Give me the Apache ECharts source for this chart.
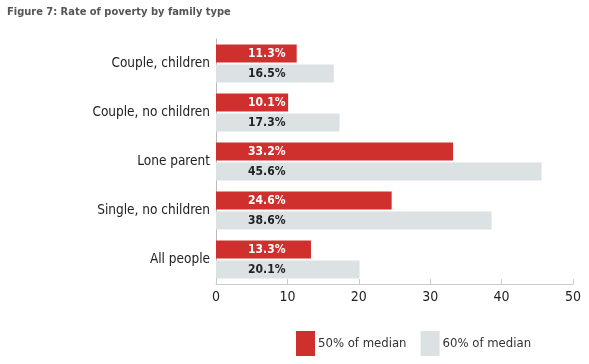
<!DOCTYPE html>
<html><head><meta charset="utf-8">
<script src="https://cdn.jsdelivr.net/npm/echarts@6/dist/echarts.min.js"></script>
<style>html,body{margin:0;padding:0;background:#fff}#c{width:589px;height:364px}</style>
</head><body><div id="c"></div>
<script>
const categories = ["Couple, children", "Couple, no children", "Lone parent", "Single, no children", "All people"];
const median50 = [11.3, 10.1, 33.2, 24.6, 13.3];
const median60 = [16.5, 17.3, 45.6, 38.6, 20.1];
const seriesNames = ["50% of median", "60% of median"];
const xTicks = [0, 10, 20, 30, 40, 50];

const font = "'DejaVu Sans Condensed', 'Liberation Sans Narrow', 'Roboto', sans-serif";
const chart = echarts.init(document.getElementById('c'), null, {renderer: 'canvas'});
chart.setOption({
  animation: false,
  title: {
    text: "Figure 7: Rate of poverty by family type",
    left: 2, top: 2,
    textStyle: {fontSize: 11, fontWeight: 'bold', color: '#555', fontFamily: font}
  },
  grid: {left: 216, right: 16, top: 39, bottom: 80, containLabel: false},
  legend: {
    data: seriesNames,
    left: 291, top: 326,
    itemWidth: 19, itemHeight: 25, itemGap: 14,
    icon: 'rect',
    textStyle: {fontSize: 13, color: '#333', fontFamily: font, padding: [0, 0, 0, -2]}
  },
  xAxis: {
    type: 'value', min: xTicks[0], max: xTicks[xTicks.length - 1], interval: 10,
    axisLine: {show: true, lineStyle: {color: '#ccc'}},
    axisTick: {show: true, inside: true, length: 5, lineStyle: {color: '#ccc'}},
    axisLabel: {fontSize: 14, color: '#222', fontFamily: font, margin: 6},
    splitLine: {show: false}
  },
  yAxis: {
    type: 'category', data: categories, inverse: true,
    axisLine: {show: true, lineStyle: {color: '#bbb'}},
    axisTick: {show: false},
    axisLabel: {fontSize: 13.5, color: '#222', fontFamily: font, margin: 6}
  },
  series: [
    {
      name: seriesNames[0], type: 'bar', data: median50,
      barWidth: 18, barGap: '12%',
      itemStyle: {color: '#cf302d'},
      label: {show: true, position: 'insideLeft', offset: [27, 0], formatter: p => p.value.toFixed(1) + '%',
        color: '#fff', fontWeight: 'bold', fontSize: 12, fontFamily: font}
    },
    {
      name: seriesNames[1], type: 'bar', data: median60,
      barWidth: 18,
      itemStyle: {color: '#dce1e4'},
      label: {show: true, position: 'insideLeft', offset: [27, 0], formatter: p => p.value.toFixed(1) + '%',
        color: '#222', fontWeight: 'bold', fontSize: 12, fontFamily: font}
    }
  ]
});
</script></body></html>
